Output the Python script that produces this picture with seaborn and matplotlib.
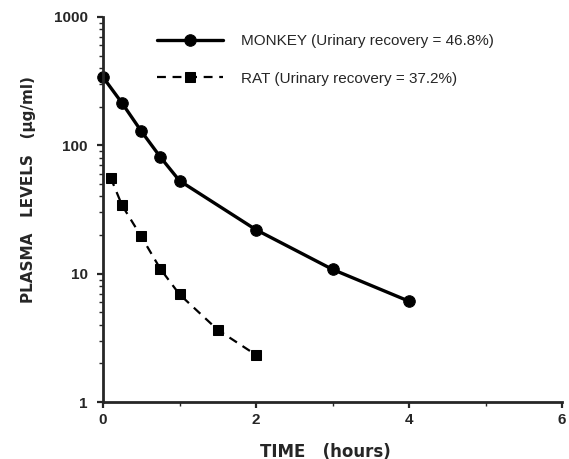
import matplotlib
matplotlib.use("Agg")
import matplotlib.pyplot as plt
import seaborn as sns
import pandas as pd
from matplotlib.ticker import FixedLocator, LogLocator, NullFormatter

monkey_time = [0, 0.25, 0.5, 0.75, 1, 2, 3, 4]
monkey_conc = [340, 213, 129, 81, 53, 22, 10.8, 6.1]
rat_time = [0.1, 0.25, 0.5, 0.75, 1, 1.5, 2]
rat_conc = [56, 34, 19.5, 10.9, 6.9, 3.65, 2.33]
labels = ["MONKEY (Urinary recovery = 46.8%)", "RAT (Urinary recovery = 37.2%)"]
x_ticks = [0, 2, 4, 6]
y_ticks = [1, 10, 100, 1000]

sns.set_style("ticks")
plt.rcParams['font.family'] = ['Liberation Sans', 'DejaVu Sans']

fig = plt.figure(figsize=(5.69, 4.59), dpi=100)
ax = fig.add_axes([0.181, 0.124, 0.807, 0.839])

df_m = pd.DataFrame({"t": monkey_time, "c": monkey_conc})
df_r = pd.DataFrame({"t": rat_time, "c": rat_conc})
sns.lineplot(data=df_m, x="t", y="c", ax=ax, color="black", lw=2.4, marker="o",
             markersize=8.3, markeredgecolor="black", label=labels[0], clip_on=False)
sns.lineplot(data=df_r, x="t", y="c", ax=ax, color="black", lw=1.6, marker="s",
             markersize=7.5, markeredgecolor="black", linestyle=(0, (4, 3)),
             label=labels[1], clip_on=False)

ax.set_yscale("log")
ax.set_xlim(0, 6)
ax.set_ylim(1, 1000)
ax.xaxis.set_major_locator(FixedLocator(x_ticks))
ax.xaxis.set_minor_locator(FixedLocator([1, 3, 5]))
ax.yaxis.set_major_locator(FixedLocator(y_ticks))
ax.yaxis.set_minor_locator(LogLocator(base=10, subs=range(2, 10)))
ax.yaxis.set_minor_formatter(NullFormatter())
ax.set_xticklabels([str(v) for v in x_ticks], fontweight="bold", fontsize=11)
ax.set_yticklabels([str(v) for v in y_ticks], fontweight="bold", fontsize=11)
ax.tick_params(axis="both", which="major", direction="out", length=4.3, width=1.6)
ax.tick_params(axis="both", which="minor", direction="out", length=3, width=1.0)
ax.tick_params(axis="x", which="major", pad=3.6)
ax.tick_params(axis="y", which="major", pad=6.5)
for s in ["left", "bottom"]:
    ax.spines[s].set_linewidth(2)
sns.despine(ax=ax)

ax.set_xlabel("TIME   (hours)", fontweight="bold", fontsize=12,
              family=["DejaVu Sans"])
ax.set_ylabel("PLASMA   LEVELS   (µg/ml)", fontweight="bold", fontsize=11,
              family=["DejaVu Sans"])
ax.xaxis.set_label_coords(0.485, -0.105)
ax.yaxis.set_label_coords(-0.145, 0.553)

leg = ax.legend(loc="upper left", bbox_to_anchor=(0.105, 0.971), frameon=False,
                fontsize=11, handlelength=4.33, handletextpad=1.13, labelspacing=1.53,
                borderaxespad=0)

fig.savefig("out.png", dpi=100)
